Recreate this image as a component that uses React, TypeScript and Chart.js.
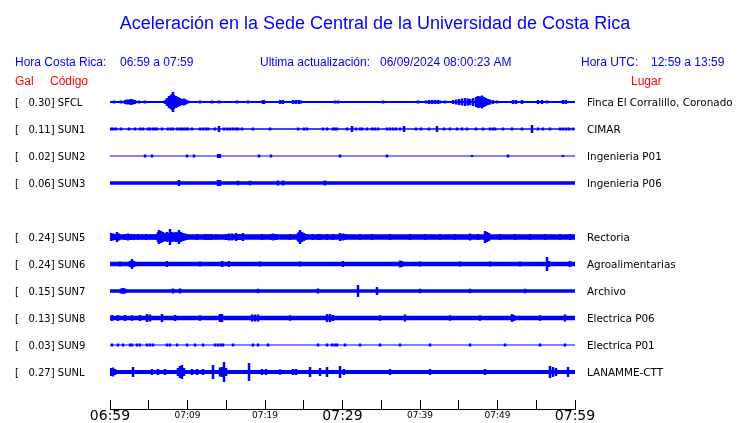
import { useEffect, useRef } from "react";
import { Chart, registerables } from "chart.js";

Chart.register(...registerables);

// ---- Data ----
const TITLE = "Aceleración en la Sede Central de la Universidad de Costa Rica";
const HEADER_CR_LABEL = "Hora Costa Rica:";
const HEADER_CR_RANGE = "06:59 a 07:59";
const HEADER_UPDATE_LABEL = "Ultima actualización:";
const HEADER_UPDATE_VALUE = "06/09/2024 08:00:23 AM";
const HEADER_UTC_LABEL = "Hora UTC:";
const HEADER_UTC_RANGE = "12:59 a 13:59";
const COL_GAL = "Gal";
const COL_CODE = "Código";
const COL_PLACE = "Lugar";

const START_MINUTE_OF_DAY = 6 * 60 + 59; // 06:59 local
const WINDOW_MINUTES = 60;
const TICK_STEP = 5;
const LABEL_STEP = 10;
const BIG_LABEL_STEP = 30;

const CODES = ["SFCL", "SUN1", "SUN2", "SUN3", "SUN5", "SUN6", "SUN7", "SUN8", "SUN9", "SUNL"];
const GAL = [0.3, 0.11, 0.02, 0.06, 0.24, 0.24, 0.15, 0.13, 0.03, 0.27];
const PLACES = [
  "Finca El Corralillo, Coronado",
  "CIMAR",
  "Ingenieria P01",
  "Ingenieria P06",
  "Rectoria",
  "Agroalimentarias",
  "Archivo",
  "Electrica P06",
  "Electrica P01",
  "LANAMME-CTT",
];
const ROW_INDEX = [0, 1, 2, 3, 5, 6, 7, 8, 9, 10];
const ROW_GAP = 27; // amplitude units between trace baselines

// background noise level (half-width of the continuous trace)
const NOISE = [0.9, 0.8, 0.5, 1.8, 2.7, 2.2, 1.8, 2.3, 0.5, 2.1];

// [minute since 06:59, half amplitude]
const EV_SFCL = [
  [0.52, 1.5], [1.42, 1.5], [1.94, 2], [2.19, 2.5], [2.45, 2.5], [2.71, 3], [2.97, 2.5], [3.23, 2], [3.74, 1.5], [4.52, 1.5],
  [7.1, 2], [7.35, 4], [7.61, 6], [7.87, 7], [8.0, 8], [8.13, 10], [8.26, 7], [8.52, 6], [8.77, 5], [9.03, 4], [9.29, 3], [9.55, 3.5], [9.81, 2.5], [10.06, 1.5],
  [11.61, 1.5], [13.16, 1.5], [14.06, 1.5], [16.39, 1.5], [17.81, 1.5], [18.32, 1], [19.74, 2], [19.87, 2], [21.94, 2], [22.32, 2], [23.61, 2], [24.0, 2], [24.39, 2], [24.65, 1.5], [25.03, 1], [25.68, 1], [29.03, 1.5], [29.42, 1.5],
  [35.23, 1.5], [36.65, 1], [37.16, 1], [37.81, 1], [38.32, 1], [39.1, 1], [39.74, 1.5], [40.77, 1.5], [41.16, 2], [41.55, 2], [41.94, 2], [42.32, 2], [42.58, 1.5], [43.23, 1.5],
  [44.26, 2], [44.65, 2.5], [45.03, 3], [45.42, 3.5], [45.81, 4], [46.19, 3.5], [46.45, 3], [46.84, 4], [47.23, 5], [47.48, 6], [47.74, 5.5], [48.0, 6.5], [48.26, 5], [48.52, 4], [48.77, 3], [49.03, 2.5], [49.42, 2], [49.94, 1.5],
  [52.0, 2], [52.39, 2], [53.16, 2], [55.23, 2], [55.74, 2], [56.39, 1.5], [58.45, 2], [58.84, 2],
];
const EV_SUN1 = [
  [0.13, 1.5], [0.39, 1.5], [0.77, 1.5], [1.42, 1.5], [2.45, 1.5], [3.23, 1.5], [3.87, 1.5], [4.26, 1.5], [4.9, 1.5], [5.16, 1.5], [5.55, 1.5], [5.81, 1.5], [6.06, 1.5], [6.71, 1.5],
  [7.48, 1.5], [7.87, 1.5], [8.13, 1.5], [8.65, 1.5], [9.03, 1.5], [9.29, 1.5], [9.55, 1.5], [9.81, 1.5], [10.06, 1.5], [10.58, 1.5], [11.61, 1.5], [12.0, 1.5], [12.39, 1.5], [12.65, 1.5],
  [13.55, 1.5], [14.06, 3], [14.71, 1.5], [15.1, 1.5], [15.48, 1.5], [15.87, 1.5], [16.26, 1.5], [16.52, 1.5], [17.03, 1.5], [18.45, 1.5], [20.65, 1.5], [24.26, 1.5], [25.03, 1.5], [25.42, 1.5],
  [27.48, 1.5], [28.0, 1.5], [28.77, 1.5], [29.03, 1.5], [29.29, 1.5], [30.58, 1.5], [31.23, 3], [31.74, 1.5], [32.26, 1.5], [32.52, 1.5], [33.16, 1.5], [33.81, 1.5], [34.19, 1.5], [34.58, 1.5],
  [35.74, 1.5], [36.13, 1.5], [36.52, 1.5], [36.9, 1.5], [37.42, 1.5], [37.94, 3], [39.48, 1.5], [40.13, 1.5], [41.16, 1.5], [42.19, 3], [43.1, 1.5], [43.87, 1.5], [44.77, 1.5], [45.42, 1.5],
  [46.06, 1.5], [47.23, 1.5], [48.13, 1.5], [49.03, 1.5], [49.42, 1.5], [49.68, 1.5], [50.71, 1.5], [51.87, 1.5], [53.16, 1.5], [54.45, 4], [55.23, 1.5], [55.87, 1.5], [56.77, 1.5],
  [58.06, 1.5], [58.45, 1.5], [58.84, 1.5], [59.23, 1.5], [59.74, 1.5],
];
const EV_SUN2 = [
  [4.52, 1.5], [5.42, 1.5], [9.94, 1.5], [10.84, 1.5], [13.94, 2], [14.19, 2], [19.23, 1.5], [20.77, 1.5], [29.68, 1.5], [35.74, 1.5], [46.71, 1], [51.35, 1.5], [58.45, 1],
];
const EV_SUN3 = [
  [8.9, 3], [13.94, 3], [14.19, 3], [16.52, 2.3], [18.06, 2.3], [21.68, 2.5], [22.32, 2.5], [27.74, 2.5],
];
const EV_SUN5 = [
  [0.13, 4], [0.39, 3.5], [0.65, 3], [0.9, 5], [1.16, 3.5], [1.94, 3], [2.32, 3.5], [2.71, 3], [3.1, 3], [3.61, 3], [4.13, 2.5], [4.65, 3], [5.16, 2.5], [5.55, 2.5], [5.94, 3],
  [6.19, 5], [6.32, 7], [6.58, 6], [6.84, 5], [7.1, 4], [7.35, 5], [7.61, 4], [7.74, 8], [8.0, 5], [8.26, 4.5], [8.52, 5], [8.77, 4.5], [8.9, 7], [9.16, 5], [9.42, 4], [9.68, 3.5], [9.94, 3],
  [11.23, 3], [12.26, 3], [12.65, 3], [13.03, 3], [13.68, 2.5], [14.97, 3], [15.35, 3.5], [15.74, 3.5], [16.26, 4], [16.52, 3], [16.77, 3], [17.16, 4], [19.61, 3], [20.77, 3], [21.03, 3.5], [21.42, 3],
  [23.23, 3], [24.26, 4], [24.39, 5], [24.52, 7], [24.77, 5], [25.03, 4], [25.29, 3], [26.19, 3], [26.84, 3], [27.1, 3], [28.0, 3], [28.77, 3], [29.68, 4], [30.06, 3.5], [30.32, 3],
  [32.26, 3], [33.81, 3], [36.13, 3], [38.71, 3], [40.65, 3], [42.58, 3], [44.52, 3], [46.45, 3.5], [47.48, 3], [48.39, 6], [48.65, 5], [48.9, 4], [50.32, 3], [52.26, 3], [54.19, 3], [56.13, 3], [58.06, 3], [59.35, 3],
];
const EV_SUN6 = [
  [1.29, 2.5], [2.58, 3], [2.84, 5], [3.1, 3], [7.35, 3], [11.61, 2.5], [14.45, 3], [15.35, 3], [19.35, 2.5], [24.52, 2.5], [30.06, 3], [37.42, 3.5], [37.68, 3], [40.0, 2.5], [45.16, 2.5], [49.03, 2.5], [52.9, 2.5], [56.39, 7], [56.65, 3], [59.35, 3],
];
const EV_SUN7 = [
  [1.42, 2.5], [1.68, 3], [1.94, 2.5], [8.13, 2.5], [9.03, 2.5], [19.1, 2.2], [26.84, 2.5], [32.0, 6], [34.45, 4], [40.0, 2.2], [46.45, 2.2], [53.55, 2.2],
];
const EV_SUN8 = [
  [0.26, 3], [1.03, 3], [1.94, 3], [2.84, 2.8], [3.87, 3], [4.77, 4], [5.16, 3.5], [6.71, 4], [8.39, 3], [11.61, 2.8], [14.19, 4], [14.45, 4], [18.32, 3.5], [18.71, 3.5], [19.1, 3.5],
  [23.23, 2.8], [28.0, 4], [28.39, 4], [28.77, 3], [34.84, 2.8], [38.06, 3.5], [43.87, 2.8], [47.74, 2.8], [51.87, 4], [52.13, 3], [55.48, 2.8], [58.71, 3.5],
];
const EV_SUN9 = [
  [0.26, 1.5], [1.03, 1.5], [1.68, 1.5], [2.58, 1.5], [2.84, 1.5], [3.48, 1.5], [3.87, 1.5], [4.77, 1.5], [5.16, 1.5], [5.55, 1.5], [7.35, 1.5], [7.74, 1.5], [8.65, 1.5], [9.94, 1.5],
  [10.97, 1.5], [12.0, 1.5], [13.55, 1.5], [13.94, 1.5], [14.32, 1.5], [14.58, 1.5], [15.87, 1.5], [18.45, 1.5], [19.1, 1.5], [20.39, 1.5], [26.84, 1.5], [28.0, 1.5], [28.65, 1.5], [29.03, 1.5],
  [29.29, 1.5], [30.32, 1.5], [32.26, 1.5], [34.84, 1.5], [37.42, 1.5], [41.29, 1.5], [46.45, 1.5], [50.97, 1.5], [55.48, 1.5], [58.71, 1.5],
];
const EV_SUNL = [
  [0.13, 4], [0.39, 4.5], [0.65, 3], [2.97, 5], [5.42, 3], [6.19, 3], [7.1, 3], [8.77, 4], [9.03, 6], [9.29, 7], [9.55, 4], [10.58, 3], [11.23, 3], [12.0, 3], [13.29, 7], [14.19, 4.5], [14.45, 5], [14.71, 10], [14.97, 4],
  [17.94, 9], [19.61, 3], [20.13, 3], [21.94, 2.8], [23.61, 3], [24.0, 3], [25.81, 5], [27.1, 4], [28.0, 5], [29.68, 6], [30.19, 3], [36.13, 3], [41.29, 3], [48.39, 3], [56.77, 6], [57.16, 5], [57.55, 4], [59.1, 5],
];
const EVENTS = [EV_SFCL, EV_SUN1, EV_SUN2, EV_SUN3, EV_SUN5, EV_SUN6, EV_SUN7, EV_SUN8, EV_SUN9, EV_SUNL];

// ---- Style ----
const BLUE = "#0000ff";
const RED = "#ff0000";
const SANS = '"Liberation Sans", Arial, sans-serif';
const DEJAVU = '"DejaVu Sans", sans-serif';

const pad2 = (n: number) => (n < 10 ? "0" : "") + n;
const clock = (m: number) => {
  const t = START_MINUTE_OF_DAY + m;
  return pad2(Math.floor(t / 60) % 24) + ":" + pad2(t % 60);
};
const LEFT_LABELS = CODES.map((c, i) => "[" + GAL[i].toFixed(2).padStart(7, " ") + "] " + c);

const headerPlugin = {
  id: "header",
  afterDraw(chart: any) {
    const ctx = chart.ctx;
    ctx.save();
    ctx.textBaseline = "alphabetic";
    ctx.fillStyle = BLUE;
    ctx.font = "18px " + SANS;
    ctx.textAlign = "center";
    ctx.fillText(TITLE, 375, 29);
    ctx.textAlign = "left";
    ctx.font = "12px " + SANS;
    ctx.fillText(HEADER_CR_LABEL, 15, 66);
    ctx.fillText(HEADER_CR_RANGE, 120, 66);
    ctx.fillText(HEADER_UPDATE_LABEL, 260, 66);
    ctx.fillText(HEADER_UPDATE_VALUE, 380, 66);
    ctx.fillText(HEADER_UTC_LABEL, 581, 66);
    ctx.fillText(HEADER_UTC_RANGE, 651, 66);
    ctx.fillStyle = RED;
    ctx.fillText(COL_GAL, 15, 85);
    ctx.fillText(COL_CODE, 50, 85);
    ctx.fillText(COL_PLACE, 631, 85);
    ctx.restore();
  },
};

export default function App() {
  const ref = useRef<HTMLCanvasElement | null>(null);

  useEffect(() => {
    document.body.style.margin = "0";
    const canvas = ref.current;
    if (!canvas) return;

    const datasets: any[] = [];
    CODES.forEach((code, k) => {
      const base = ROW_INDEX[k] * ROW_GAP;
      const floor = NOISE[k];
      datasets.push({
        label: code + " base",
        data: [
          { x: 0, y: base },
          { x: WINDOW_MINUTES, y: base },
        ],
        borderColor: BLUE,
        borderWidth: (c: any) => {
          const s = c.chart.scales && c.chart.scales.y;
          return s ? Math.abs(s.getPixelForValue(floor) - s.getPixelForValue(-floor)) : 2 * floor;
        },
        pointRadius: 0,
        borderCapStyle: "butt",
      });
      const pts: any[] = [];
      EVENTS[k].forEach(([t, a]) => {
        pts.push({ x: t, y: base - a }, { x: t, y: base + a }, { x: t, y: null });
      });
      datasets.push({
        label: code,
        data: pts,
        borderColor: BLUE,
        borderWidth: 2.5,
        pointRadius: 0,
        spanGaps: false,
        borderCapStyle: "butt",
      });
    });

    const setRowTicks = (s: any) => {
      s.ticks = ROW_INDEX.map((r) => ({ value: r * ROW_GAP }));
    };
    const fixWidth = (w: number) => (s: any) => {
      s.width = w;
      s.paddingTop = 0;
      s.paddingBottom = 0;
    };

    const chart = new Chart(canvas, {
      type: "line",
      data: { datasets },
      plugins: [headerPlugin],
      options: {
        animation: false,
        responsive: false,
        maintainAspectRatio: false,
        events: [],
        layout: { padding: { top: 88, left: 15, right: 0, bottom: 0 } },
        plugins: {
          legend: { display: false },
          tooltip: { enabled: false },
          title: { display: false },
        },
        scales: {
          x: {
            type: "linear",
            position: "bottom",
            min: 0,
            max: WINDOW_MINUTES,
            afterFit: (s: any) => {
              s.height = 14;
            },
            grid: { drawOnChartArea: false, drawTicks: true, tickLength: -9, color: "#000", lineWidth: 1 },
            border: { display: true, color: "#000", width: 1 },
            ticks: {
              stepSize: TICK_STEP,
              autoSkip: false,
              maxRotation: 0,
              minRotation: 0,
              padding: 8,
              color: "#000",
              font: (c: any) => {
                const big = c.tick && c.tick.value % BIG_LABEL_STEP === 0;
                return { family: DEJAVU, size: big ? 14 : 9, lineHeight: big ? 1.2 : 1.75 };
              },
              callback: (v: any) => (Number(v) % LABEL_STEP === 0 ? clock(Number(v)) : ""),
            },
          },
          y: {
            type: "linear",
            position: "left",
            min: -14,
            max: 307,
            reverse: true,
            afterFit: fixWidth(95),
            afterBuildTicks: setRowTicks,
            grid: { display: false, drawTicks: false },
            border: { display: false },
            ticks: {
              crossAlign: "far",
              autoSkip: false,
              padding: 0,
              labelOffset: 1.5,
              color: "#000",
              font: { family: DEJAVU, size: 10 },
              callback: (_v: any, i: number) => LEFT_LABELS[i],
            },
          },
          y2: {
            type: "linear",
            position: "right",
            min: -14,
            max: 307,
            reverse: true,
            afterFit: fixWidth(165),
            afterBuildTicks: setRowTicks,
            grid: { display: false, drawTicks: false },
            border: { display: false },
            ticks: {
              autoSkip: false,
              padding: 12,
              labelOffset: 1.5,
              color: "#000",
              font: { family: DEJAVU, size: 10.4 },
              callback: (_v: any, i: number) => PLACES[i],
            },
          },
        },
      } as any,
    });

    return () => chart.destroy();
  }, []);

  return (
    <div style={{ position: "absolute", left: 0, top: 0, width: 740, height: 423, background: "#fff" }}>
      <canvas ref={ref} width={740} height={423} style={{ display: "block" }} />
    </div>
  );
}
